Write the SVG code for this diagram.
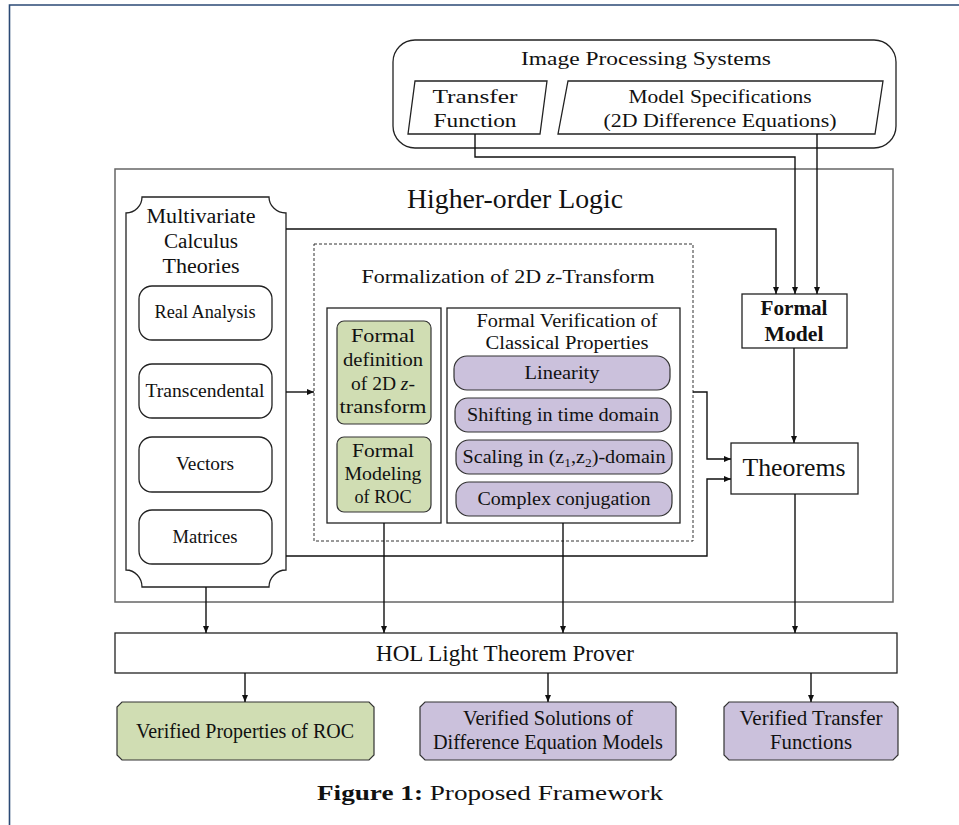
<svg xmlns="http://www.w3.org/2000/svg" width="959" height="825" viewBox="0 0 959 825">
<style>
text{font-family:"Liberation Serif","DejaVu Serif",serif;fill:#111;text-anchor:middle}
.box{fill:#fff;stroke:#222;stroke-width:1.3}
.grey{fill:none;stroke:#666;stroke-width:1.5}
.green{fill:#d0ddb3;stroke:#333;stroke-width:1.2}
.purple{fill:#cbc1dc;stroke:#333;stroke-width:1.2}
.arr{fill:none;stroke:#111;stroke-width:1.4;marker-end:url(#ah)}
.t17{font-size:17px}.t18{font-size:18px}.t19{font-size:19px}.t20{font-size:20px}.t21{font-size:21px}.t22{font-size:22px}
</style>
<defs>
<marker id="ah" markerWidth="8" markerHeight="8" refX="7" refY="4" orient="auto" markerUnits="userSpaceOnUse">
<path d="M0,1 L7,4 L0,7 Z" fill="#111"/>
</marker>
</defs>
<rect width="959" height="825" fill="#fff"/>
<path d="M9.5,825 V5 H959" fill="none" stroke="#2b4a75" stroke-width="1.6"/>

<g id="image-processing">
<rect x="393" y="40" width="503" height="108" rx="22" class="box"/>
<text x="646" y="65" class="t19" textLength="250" lengthAdjust="spacingAndGlyphs">Image Processing Systems</text>
</g>
<g id="transfer-function">
<polygon points="415,81 547,81 540,134 408,134" class="box"/>
<text x="475" y="103" class="t18" textLength="85" lengthAdjust="spacingAndGlyphs">Transfer</text>
<text x="475" y="127" class="t18" textLength="83" lengthAdjust="spacingAndGlyphs">Function</text>
</g>
<g id="model-spec">
<polygon points="568,81 883,81 875,134 558,134" class="box"/>
<text x="720" y="103" class="t18" textLength="183" lengthAdjust="spacingAndGlyphs">Model Specifications</text>
<text x="720" y="127" class="t18" textLength="233" lengthAdjust="spacingAndGlyphs">(2D Difference Equations)</text>
</g>

<g id="hol">
<rect x="115" y="169" width="778" height="433" class="grey"/>
<text x="515" y="208" style="font-size:27px" textLength="216" lengthAdjust="spacingAndGlyphs">Higher-order Logic</text>
</g>

<g id="multivariate">
<path d="M142,197 H269 A17,16 0 0 0 286,213 V570 A17,17 0 0 0 269,587 H142 A16,17 0 0 0 126,570 V213 A16,16 0 0 0 142,197 Z" class="box"/>
<text x="201" y="223" class="t20" textLength="109" lengthAdjust="spacingAndGlyphs">Multivariate</text>
<text x="201" y="248" class="t20" textLength="74" lengthAdjust="spacingAndGlyphs">Calculus</text>
<text x="201" y="273" class="t20" textLength="77" lengthAdjust="spacingAndGlyphs">Theories</text>
</g>
<g id="real-analysis">
<rect x="139" y="286" width="133" height="54" rx="13" class="box"/>
<text x="205" y="318" class="t18" textLength="101" lengthAdjust="spacingAndGlyphs">Real Analysis</text>
</g>
<g id="transcendental">
<rect x="139" y="364" width="133" height="54" rx="13" class="box"/>
<text x="205" y="397" class="t18" textLength="119" lengthAdjust="spacingAndGlyphs">Transcendental</text>
</g>
<g id="vectors">
<rect x="139" y="437" width="133" height="55" rx="13" class="box"/>
<text x="205" y="470" class="t18" textLength="58" lengthAdjust="spacingAndGlyphs">Vectors</text>
</g>
<g id="matrices">
<rect x="139" y="510" width="133" height="54" rx="13" class="box"/>
<text x="205" y="543" class="t18" textLength="65" lengthAdjust="spacingAndGlyphs">Matrices</text>
</g>

<g id="formalization">
<rect x="314" y="244" width="379" height="297" fill="none" stroke="#333" stroke-width="1" stroke-dasharray="3,2"/>
<text x="508" y="283" class="t19" textLength="293" lengthAdjust="spacingAndGlyphs">Formalization of 2D <tspan font-style="italic">z</tspan>-Transform</text>
</g>
<g id="definition-group">
<rect x="327" y="308" width="114" height="215" class="box"/>
</g>
<g id="formal-definition">
<rect x="337" y="321" width="94" height="103" rx="7" class="green"/>
<text x="383" y="342" class="t19" textLength="64" lengthAdjust="spacingAndGlyphs">Formal</text>
<text x="383" y="366" class="t19" textLength="80" lengthAdjust="spacingAndGlyphs">definition</text>
<text x="383" y="390" class="t19" textLength="64" lengthAdjust="spacingAndGlyphs">of 2D <tspan font-style="italic">z</tspan>-</text>
<text x="383" y="413" class="t19" textLength="87" lengthAdjust="spacingAndGlyphs">transform</text>
</g>
<g id="formal-roc">
<rect x="337" y="437" width="94" height="75" rx="7" class="green"/>
<text x="383" y="457" class="t19" textLength="62" lengthAdjust="spacingAndGlyphs">Formal</text>
<text x="383" y="480" class="t19" textLength="77" lengthAdjust="spacingAndGlyphs">Modeling</text>
<text x="383" y="503" class="t19" textLength="57" lengthAdjust="spacingAndGlyphs">of ROC</text>
</g>
<g id="verification">
<rect x="447" y="308" width="233" height="215" class="box"/>
<text x="567" y="327" class="t18" textLength="181" lengthAdjust="spacingAndGlyphs">Formal Verification of</text>
<text x="567" y="349" class="t18" textLength="163" lengthAdjust="spacingAndGlyphs">Classical Properties</text>
</g>
<g id="linearity">
<rect x="454" y="356" width="216" height="34" rx="13" class="purple"/>
<text x="562" y="379" class="t18" textLength="75" lengthAdjust="spacingAndGlyphs">Linearity</text>
</g>
<g id="shifting">
<rect x="455" y="398" width="216" height="34" rx="13" class="purple"/>
<text x="563" y="421" class="t18" textLength="192" lengthAdjust="spacingAndGlyphs">Shifting in time domain</text>
</g>
<g id="scaling">
<rect x="456" y="440" width="216" height="34" rx="13" class="purple"/>
<text x="564" y="463" class="t18" textLength="203" lengthAdjust="spacingAndGlyphs">Scaling in (z<tspan font-size="12" dy="4">1</tspan><tspan dy="-4">,z</tspan><tspan font-size="12" dy="4">2</tspan><tspan dy="-4">)-domain</tspan></text>
</g>
<g id="conjugation">
<rect x="456" y="482" width="216" height="34" rx="13" class="purple"/>
<text x="564" y="505" class="t18" textLength="173" lengthAdjust="spacingAndGlyphs">Complex conjugation</text>
</g>

<g id="formal-model">
<rect x="742" y="294" width="105" height="54" class="box"/>
<text x="794" y="315" class="t21" font-weight="bold" textLength="67" lengthAdjust="spacingAndGlyphs">Formal</text>
<text x="794" y="341" class="t21" font-weight="bold" textLength="59" lengthAdjust="spacingAndGlyphs">Model</text>
</g>
<g id="theorems">
<rect x="731" y="443" width="127" height="51" class="box"/>
<text x="794" y="476" style="font-size:25px" textLength="103" lengthAdjust="spacingAndGlyphs">Theorems</text>
</g>

<g id="hol-light">
<rect x="115" y="633" width="782" height="40" class="box"/>
<text x="505" y="661" style="font-size:23px" textLength="258" lengthAdjust="spacingAndGlyphs">HOL Light Theorem Prover</text>
</g>
<g id="out-roc">
<polygon points="122,702 369,702 374,707 374,755 369,760 122,760 117,755 117,707" class="green"/>
<text x="245" y="738" class="t22" textLength="218" lengthAdjust="spacingAndGlyphs">Verified Properties of ROC</text>
</g>
<g id="out-solutions">
<polygon points="425,702 671,702 676,707 676,755 671,760 425,760 420,755 420,707" class="purple"/>
<text x="548" y="725" class="t22" textLength="170" lengthAdjust="spacingAndGlyphs">Verified Solutions of</text>
<text x="548" y="749" class="t22" textLength="230" lengthAdjust="spacingAndGlyphs">Difference Equation Models</text>
</g>
<g id="out-transfer">
<polygon points="729,702 893,702 898,707 898,755 893,760 729,760 724,755 724,707" class="purple"/>
<text x="811" y="725" class="t22" textLength="143" lengthAdjust="spacingAndGlyphs">Verified Transfer</text>
<text x="811" y="749" class="t22" textLength="82" lengthAdjust="spacingAndGlyphs">Functions</text>
</g>

<g id="caption">
<text x="490" y="800" style="font-size:20px" textLength="346" lengthAdjust="spacingAndGlyphs"><tspan font-weight="bold">Figure 1:</tspan> Proposed Framework</text>
</g>

<g id="connectors">
<path d="M475,134 V157 H795 V294" class="arr"/>
<path d="M817,134 V294" class="arr"/>
<path d="M286,229 H776 V294" class="arr"/>
<path d="M794,348 V443" class="arr"/>
<path d="M693,392 H707 V459 H731" class="arr"/>
<path d="M286,556 H707 V479 H731" class="arr"/>
<path d="M286,392 H314" class="arr"/>
<path d="M795,494 V633" class="arr"/>
<path d="M206,587 V633" class="arr"/>
<path d="M384,523 V633" class="arr"/>
<path d="M563,523 V633" class="arr"/>
<path d="M245,673 V702" class="arr"/>
<path d="M548,673 V702" class="arr"/>
<path d="M811,673 V702" class="arr"/>
</g>
</svg>
